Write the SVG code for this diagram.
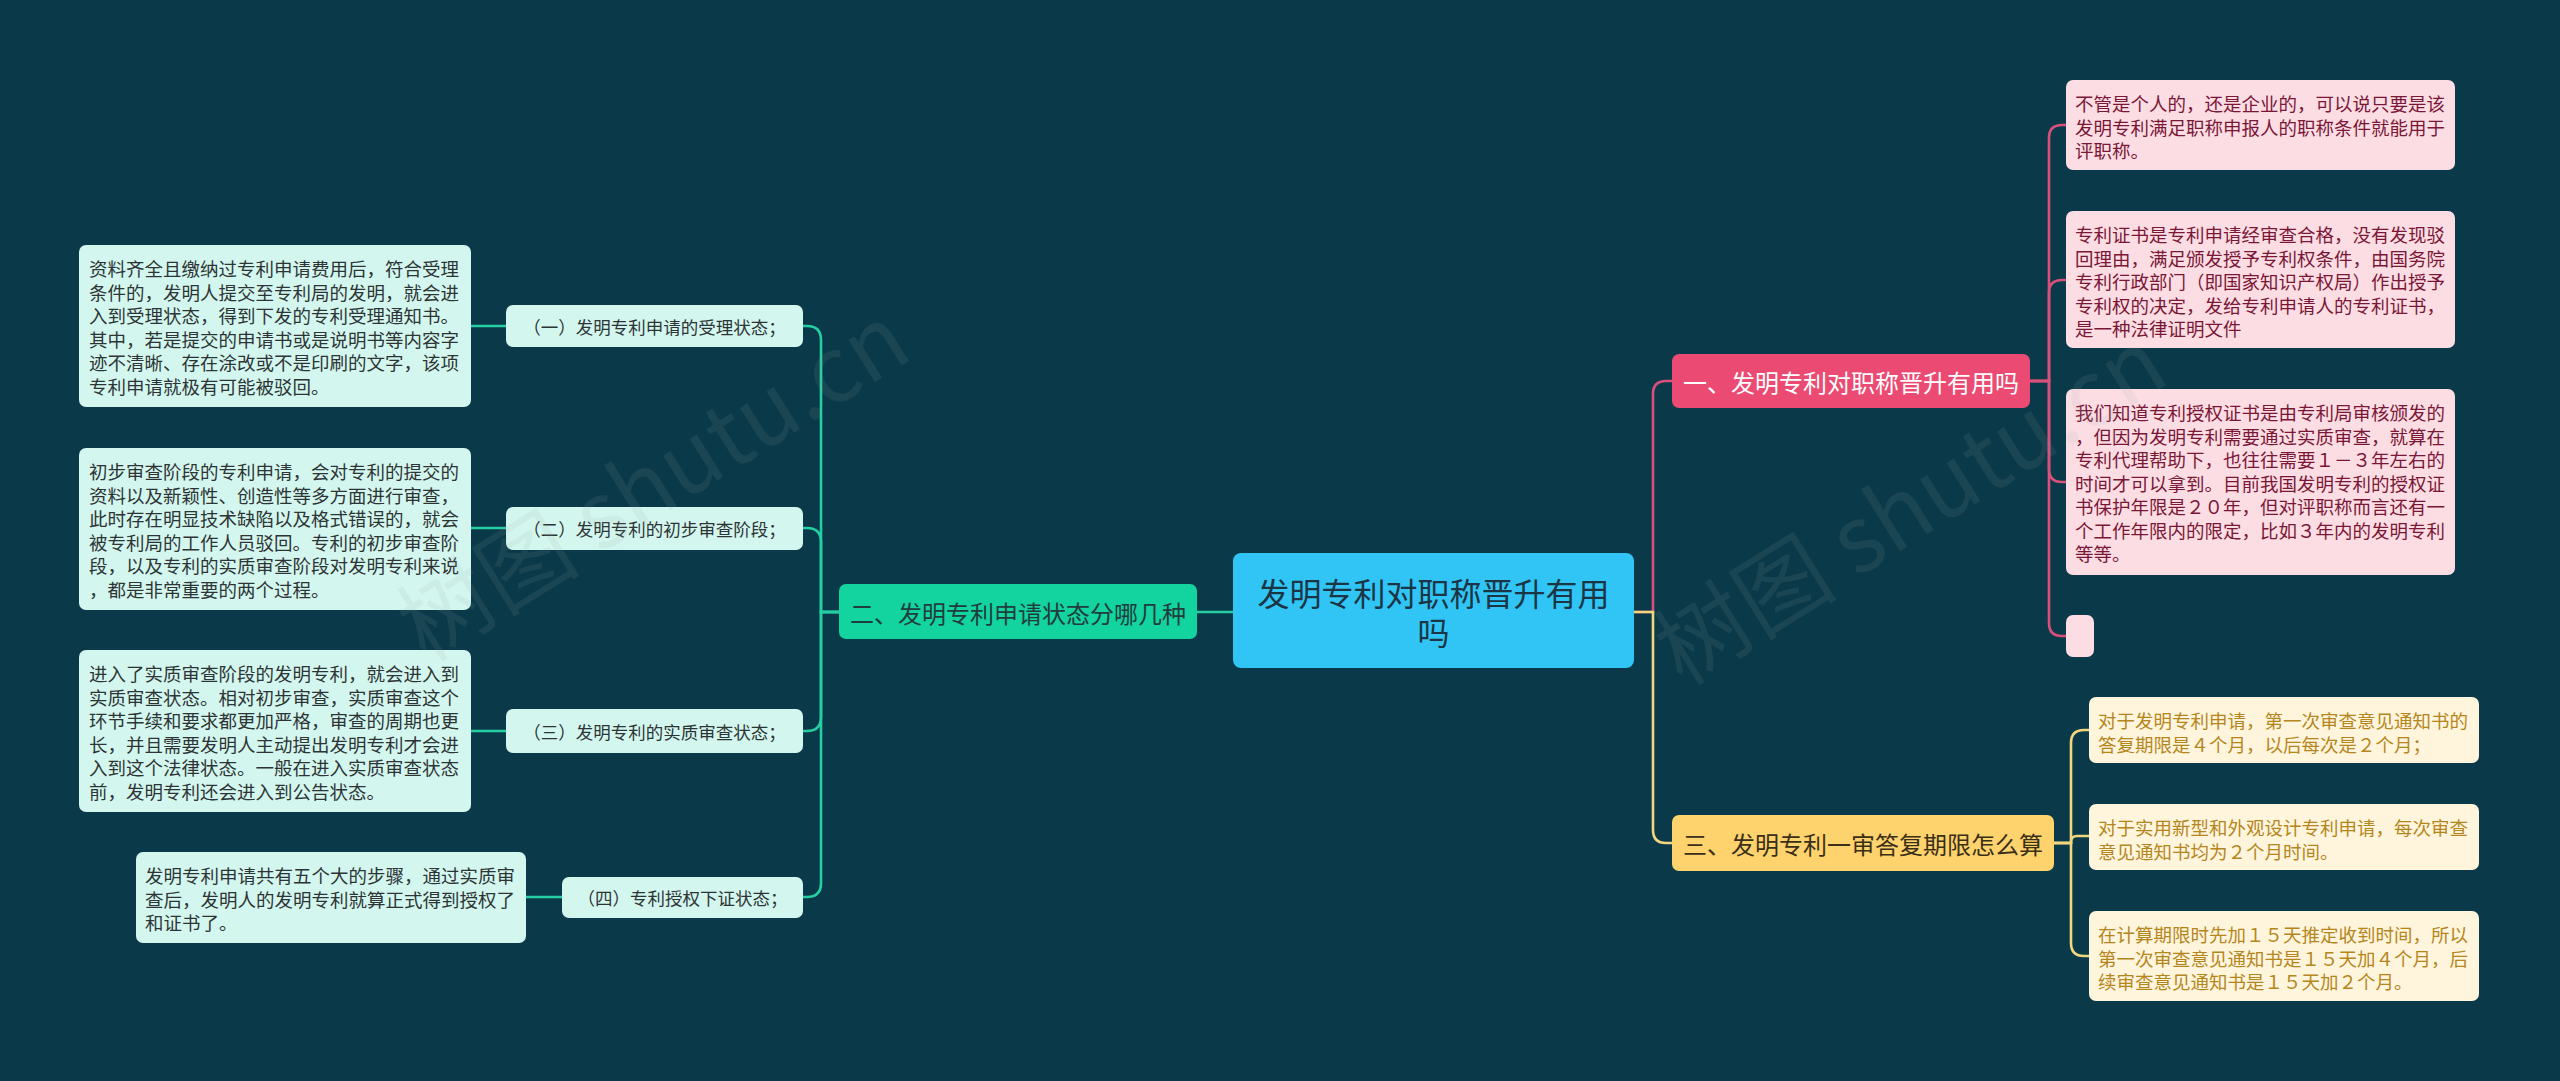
<svg xmlns="http://www.w3.org/2000/svg" width="2560" height="1081" viewBox="0 0 2560 1081">
<style>
text{font-family:"Noto Sans CJK SC","Noto Sans",sans-serif;dominant-baseline:central}
.leaf{font-size:18.5px}
.mint{fill:#d3f7ee}
.mintT{fill:#2e3436}
.pinkL{fill:#fcdde4}
.pinkT{fill:#7a1636}
.cream{fill:#fef5dc}
.creamT{fill:#b5861c}
.l2{font-size:17.5px;fill:#2e3436}
.l1{font-size:24px}
.cG{fill:none;stroke:#25cfa2;stroke-width:2.6}
.cP{fill:none;stroke:#d9507a;stroke-width:2.6}
.cY{fill:none;stroke:#f3d77e;stroke-width:2.6}
.wm{font-size:92px;fill:#9aa6aa;opacity:0.11;dominant-baseline:auto}
</style>
<rect x="0" y="0" width="2560" height="1081" fill="#0a3949"/>

<g id="connectors">
  <path class="cG" d="M1233,612 H1197"/>
  <path class="cG" d="M839,612 H821 V340 Q821,326 807,326 H803"/>
  <path class="cG" d="M839,612 H821 V542 Q821,528 807,528 H803"/>
  <path class="cG" d="M839,612 H821 V717 Q821,731 807,731 H803"/>
  <path class="cG" d="M839,612 H821 V883 Q821,897 807,897 H803"/>
  <path class="cG" d="M506,326 H471"/>
  <path class="cG" d="M506,528 H471"/>
  <path class="cG" d="M506,731 H471"/>
  <path class="cG" d="M562,897 H526"/>
  <path class="cP" d="M1634,612 H1653 V394 Q1653,381 1666,381 H1672"/>
  <path class="cP" d="M2030,381 H2049 V138 Q2049,125 2062,125 H2066"/>
  <path class="cP" d="M2030,381 H2049 V293 Q2049,280 2062,280 H2066"/>
  <path class="cP" d="M2030,381 H2049 V469 Q2049,482 2062,482 H2066"/>
  <path class="cP" d="M2030,381 H2049 V623 Q2049,636 2062,636 H2066"/>
  <path class="cY" d="M1634,612 H1653 V830 Q1653,843 1666,843 H1672"/>
  <path class="cY" d="M2054,843 H2071 V743 Q2071,730 2084,730 H2089"/>
  <path class="cY" d="M2054,843 H2071 V842 Q2071,836 2077,836 H2089"/>
  <path class="cY" d="M2054,843 H2071 V943 Q2071,956 2084,956 H2089"/>
</g>

<g id="center">
  <rect x="1233" y="553" width="401" height="115" rx="8" fill="#30c5f5"/>
  <text x="1433.5" y="592" font-size="32" text-anchor="middle" fill="#1b3545">发明专利对职称晋升有用</text>
  <text x="1433.5" y="631" font-size="32" text-anchor="middle" fill="#1b3545">吗</text>
</g>

<g id="b2">
  <rect x="839" y="584" width="358" height="55" rx="7" fill="#13d39f"/>
  <text class="l1" x="1018" y="612" text-anchor="middle" fill="#1f3d3c">二、发明专利申请状态分哪几种</text>
</g>
<g id="b2-1">
  <rect x="506" y="305" width="297" height="42" rx="7" class="mint"/>
  <text class="l2" x="654.5" y="326.5" text-anchor="middle">（一）发明专利申请的受理状态；</text>
</g>
<g id="b2-2">
  <rect x="506" y="507" width="297" height="43" rx="7" class="mint"/>
  <text class="l2" x="654.5" y="528.5" text-anchor="middle">（二）发明专利的初步审查阶段；</text>
</g>
<g id="b2-3">
  <rect x="506" y="709" width="297" height="44" rx="7" class="mint"/>
  <text class="l2" x="654.5" y="731" text-anchor="middle">（三）发明专利的实质审查状态；</text>
</g>
<g id="b2-4">
  <rect x="562" y="877" width="241" height="41" rx="7" class="mint"/>
  <text class="l2" x="682.5" y="897.5" text-anchor="middle">（四）专利授权下证状态；</text>
</g>

<g id="leaf2-1">
  <rect x="79" y="245" width="392" height="162" rx="7" class="mint"/>
  <text class="leaf mintT" x="89" y="268">资料齐全且缴纳过专利申请费用后，符合受理</text>
  <text class="leaf mintT" x="89" y="291.5">条件的，发明人提交至专利局的发明，就会进</text>
  <text class="leaf mintT" x="89" y="315">入到受理状态，得到下发的专利受理通知书。</text>
  <text class="leaf mintT" x="89" y="338.5">其中，若是提交的申请书或是说明书等内容字</text>
  <text class="leaf mintT" x="89" y="362">迹不清晰、存在涂改或不是印刷的文字，该项</text>
  <text class="leaf mintT" x="89" y="385.5">专利申请就极有可能被驳回。</text>
</g>
<g id="leaf2-2">
  <rect x="79" y="448" width="392" height="162" rx="7" class="mint"/>
  <text class="leaf mintT" x="89" y="471">初步审查阶段的专利申请，会对专利的提交的</text>
  <text class="leaf mintT" x="89" y="494.5">资料以及新颖性、创造性等多方面进行审查，</text>
  <text class="leaf mintT" x="89" y="518">此时存在明显技术缺陷以及格式错误的，就会</text>
  <text class="leaf mintT" x="89" y="541.5">被专利局的工作人员驳回。专利的初步审查阶</text>
  <text class="leaf mintT" x="89" y="565">段，以及专利的实质审查阶段对发明专利来说</text>
  <text class="leaf mintT" x="89" y="588.5">，都是非常重要的两个过程。</text>
</g>
<g id="leaf2-3">
  <rect x="79" y="650" width="392" height="162" rx="7" class="mint"/>
  <text class="leaf mintT" x="89" y="673">进入了实质审查阶段的发明专利，就会进入到</text>
  <text class="leaf mintT" x="89" y="696.5">实质审查状态。相对初步审查，实质审查这个</text>
  <text class="leaf mintT" x="89" y="720">环节手续和要求都更加严格，审查的周期也更</text>
  <text class="leaf mintT" x="89" y="743.5">长，并且需要发明人主动提出发明专利才会进</text>
  <text class="leaf mintT" x="89" y="767">入到这个法律状态。一般在进入实质审查状态</text>
  <text class="leaf mintT" x="89" y="790.5">前，发明专利还会进入到公告状态。</text>
</g>
<g id="leaf2-4">
  <rect x="136" y="852" width="390" height="91" rx="7" class="mint"/>
  <text class="leaf mintT" x="145" y="875">发明专利申请共有五个大的步骤，通过实质审</text>
  <text class="leaf mintT" x="145" y="898.5">查后，发明人的发明专利就算正式得到授权了</text>
  <text class="leaf mintT" x="145" y="922">和证书了。</text>
</g>

<g id="b1">
  <rect x="1672" y="354" width="358" height="54" rx="7" fill="#eb4b72"/>
  <text class="l1" x="1851" y="381" text-anchor="middle" fill="#ffffff">一、发明专利对职称晋升有用吗</text>
</g>
<g id="leaf1-1">
  <rect x="2066" y="80" width="389" height="90" rx="7" class="pinkL"/>
  <text class="leaf pinkT" x="2075" y="103">不管是个人的，还是企业的，可以说只要是该</text>
  <text class="leaf pinkT" x="2075" y="126.5">发明专利满足职称申报人的职称条件就能用于</text>
  <text class="leaf pinkT" x="2075" y="150">评职称。</text>
</g>
<g id="leaf1-2">
  <rect x="2066" y="211" width="389" height="137" rx="7" class="pinkL"/>
  <text class="leaf pinkT" x="2075" y="234">专利证书是专利申请经审查合格，没有发现驳</text>
  <text class="leaf pinkT" x="2075" y="257.5">回理由，满足颁发授予专利权条件，由国务院</text>
  <text class="leaf pinkT" x="2075" y="281">专利行政部门（即国家知识产权局）作出授予</text>
  <text class="leaf pinkT" x="2075" y="304.5">专利权的决定，发给专利申请人的专利证书，</text>
  <text class="leaf pinkT" x="2075" y="328">是一种法律证明文件</text>
</g>
<g id="leaf1-3">
  <rect x="2066" y="389" width="389" height="186" rx="7" class="pinkL"/>
  <text class="leaf pinkT" x="2075" y="412">我们知道专利授权证书是由专利局审核颁发的</text>
  <text class="leaf pinkT" x="2075" y="435.5">，但因为发明专利需要通过实质审查，就算在</text>
  <text class="leaf pinkT" x="2075" y="459">专利代理帮助下，也往往需要１－３年左右的</text>
  <text class="leaf pinkT" x="2075" y="482.5">时间才可以拿到。目前我国发明专利的授权证</text>
  <text class="leaf pinkT" x="2075" y="506">书保护年限是２０年，但对评职称而言还有一</text>
  <text class="leaf pinkT" x="2075" y="529.5">个工作年限内的限定，比如３年内的发明专利</text>
  <text class="leaf pinkT" x="2075" y="553">等等。</text>
</g>
<g id="leaf1-4">
  <rect x="2066" y="615" width="28" height="42" rx="7" class="pinkL"/>
</g>

<g id="b3">
  <rect x="1672" y="815" width="382" height="56" rx="7" fill="#fed36e"/>
  <text class="l1" x="1863" y="843" text-anchor="middle" fill="#3a2f17">三、发明专利一审答复期限怎么算</text>
</g>
<g id="leaf3-1">
  <rect x="2089" y="697" width="390" height="66" rx="7" class="cream"/>
  <text class="leaf creamT" x="2098" y="720">对于发明专利申请，第一次审查意见通知书的</text>
  <text class="leaf creamT" x="2098" y="743.5">答复期限是４个月，以后每次是２个月；</text>
</g>
<g id="leaf3-2">
  <rect x="2089" y="804" width="390" height="66" rx="7" class="cream"/>
  <text class="leaf creamT" x="2098" y="827">对于实用新型和外观设计专利申请，每次审查</text>
  <text class="leaf creamT" x="2098" y="850.5">意见通知书均为２个月时间。</text>
</g>
<g id="leaf3-3">
  <rect x="2089" y="911" width="390" height="90" rx="7" class="cream"/>
  <text class="leaf creamT" x="2098" y="934">在计算期限时先加１５天推定收到时间，所以</text>
  <text class="leaf creamT" x="2098" y="957.5">第一次审查意见通知书是１５天加４个月，后</text>
  <text class="leaf creamT" x="2098" y="981">续审查意见通知书是１５天加２个月。</text>
</g>

<g id="watermark">
  <text class="wm" x="653" y="515" text-anchor="middle" transform="rotate(-32 653 482)">树图 shutu.cn</text>
  <text class="wm" x="1910" y="539" text-anchor="middle" transform="rotate(-32 1910 506)">树图 shutu.cn</text>
</g>
</svg>
